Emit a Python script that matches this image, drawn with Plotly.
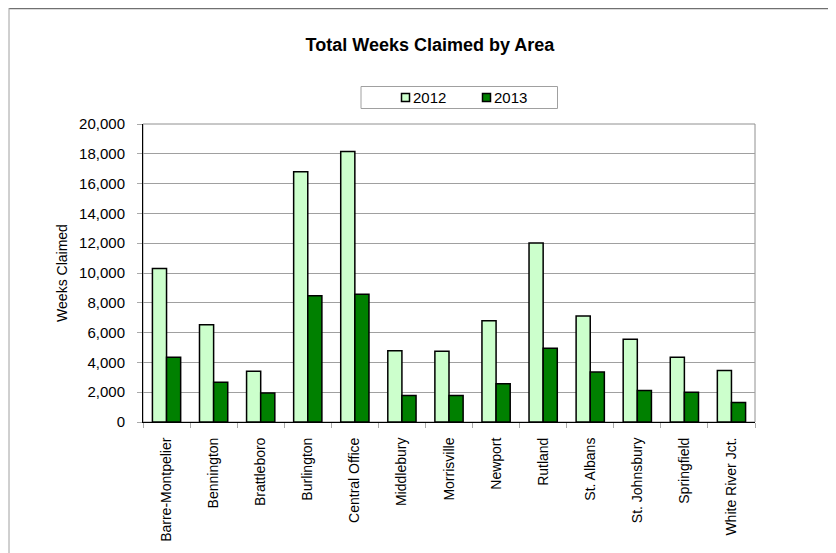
import plotly.graph_objects as go

areas = ["Barre-Montpelier", "Bennington", "Brattleboro", "Burlington", "Central Office",
         "Middlebury", "Morrisville", "Newport", "Rutland", "St. Albans",
         "St. Johnsbury", "Springfield", "White River Jct."]
weeks_2012 = [10300, 6520, 3400, 16800, 18150, 4790, 4750, 6790, 12020, 7120, 5560, 4340, 3450]
weeks_2013 = [4350, 2660, 1940, 8470, 8570, 1780, 1780, 2570, 4950, 3350, 2120, 1990, 1310]
y_ticks = [0, 2000, 4000, 6000, 8000, 10000, 12000, 14000, 16000, 18000, 20000]
series_names = ["2012", "2013"]
series_colors = ["#CCFFCC", "#008000"]

# page body has an 8px margin; figure coordinates are screen coordinates minus 8
OFF = 8
W, H = 836 - OFF, 553 - OFF
L, R, T, B = 143 - OFF, 755 - OFF, 124 - OFF, 422 - OFF


def px(x):
    return (x - OFF - L) / (R - L)


def py(y):
    return (B - (y - OFF)) / (B - T)


fig = go.Figure()
for name, vals, col in zip(series_names, [weeks_2012, weeks_2013], series_colors):
    fig.add_trace(go.Bar(name=name, x=areas, y=vals,
                         marker=dict(color=col, line=dict(color="black", width=1.5))))

font = "Liberation Sans, Arial, sans-serif"

shapes = [
    dict(type="rect", xref="paper", yref="paper", x0=0, y0=0, x1=1, y1=1,
         line=dict(color="#909090", width=1), layer="below"),
    dict(type="line", xref="paper", yref="paper", x0=px(9), y0=py(8.5), x1=px(845), y1=py(8.5),
         line=dict(color="#707070", width=1.5)),
    dict(type="line", xref="paper", yref="paper", x0=px(9), y0=py(8), x1=px(9), y1=py(560),
         line=dict(color="#a0a0a0", width=1)),
    # legend box
    dict(type="rect", xref="paper", yref="paper", x0=px(361), y0=py(86.5), x1=px(557.5), y1=py(108.5),
         line=dict(color="#a0a0a0", width=1), fillcolor="white"),
]
annotations = []
legend_x = [401, 482]
for name, col, lx in zip(series_names, series_colors, legend_x):
    shapes.append(dict(type="rect", xref="paper", yref="paper",
                       x0=px(lx + 0.5), y0=py(93.5), x1=px(lx + 8.5), y1=py(101.5),
                       fillcolor=col, line=dict(color="black", width=1.5)))
    annotations.append(dict(text=name, xref="paper", yref="paper", x=px(lx + 9.5), y=py(97.5),
                            xanchor="left", yanchor="middle", showarrow=False,
                            font=dict(size=15, family=font, color="black")))

fig.update_layout(
    width=W, height=H,
    margin=dict(l=L, r=W - R, t=T, b=H - B, pad=0),
    paper_bgcolor="white", plot_bgcolor="white",
    font=dict(family=font, size=14, color="black"),
    barmode="group", bargap=0.4, bargroupgap=0,
    title=dict(text="<b>Total Weeks Claimed by Area</b>", x=(430 - OFF) / W, xanchor="center",
               y=1 - (45 - OFF) / H, yanchor="middle", font=dict(size=18, family=font)),
    showlegend=False,
    xaxis=dict(type="category", showline=True, linecolor="black", linewidth=1,
               ticks="outside", tickson="boundaries", ticklen=5, tickcolor="#aaaaaa",
               tickangle=-90, showgrid=False, tickfont=dict(size=14), ticklabelstandoff=9),
    yaxis=dict(range=[0, 20000], tickvals=y_ticks, tickformat=",d",
               showline=True, linecolor="black", linewidth=1,
               ticks="outside", ticklen=5, tickcolor="#aaaaaa",
               showgrid=True, gridcolor="#a0a0a0", gridwidth=1,
               zeroline=False, tickfont=dict(size=15), ticklabelstandoff=9,
               title=dict(text="Weeks Claimed", font=dict(size=14), standoff=8)),
    shapes=shapes,
    annotations=annotations,
)

fig.write_html("out.html")
